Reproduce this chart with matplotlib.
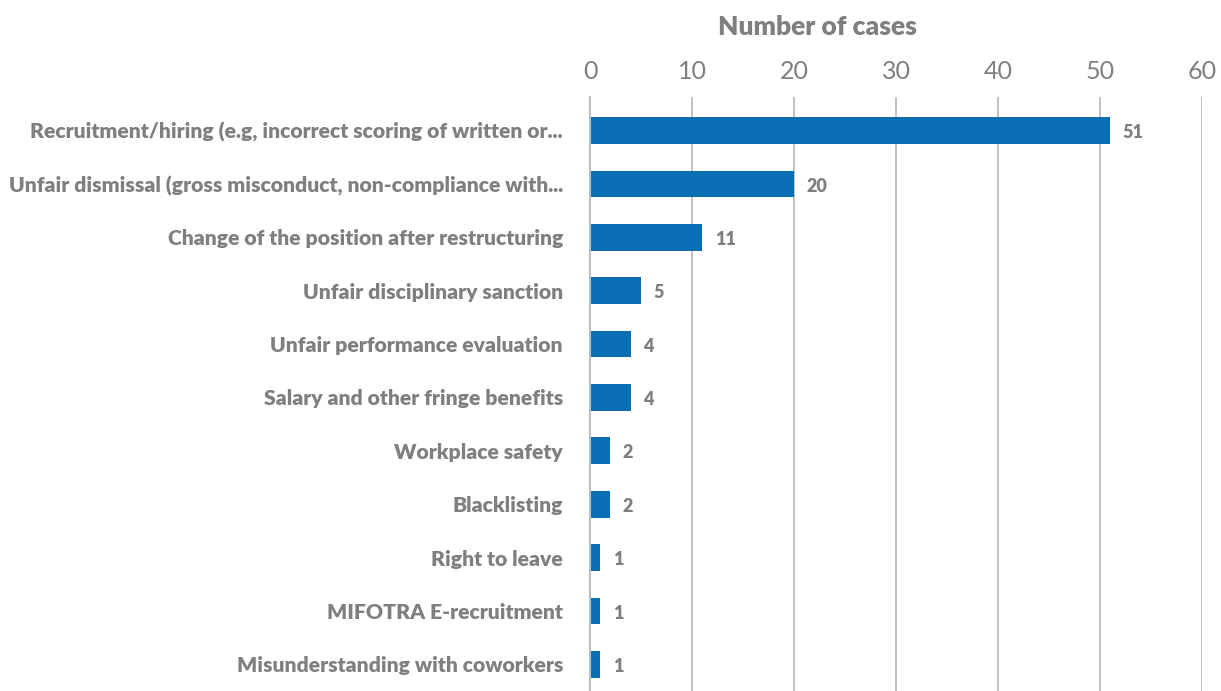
import matplotlib
matplotlib.use("Agg")
import matplotlib.pyplot as plt

categories = [
    "Recruitment/hiring (e.g, incorrect scoring of written or...",
    "Unfair dismissal (gross misconduct, non-compliance with...",
    "Change of the position after restructuring",
    "Unfair disciplinary sanction",
    "Unfair performance evaluation",
    "Salary and other fringe benefits",
    "Workplace safety",
    "Blacklisting",
    "Right to leave",
    "MIFOTRA E-recruitment",
    "Misunderstanding with coworkers",
]
values = [51, 20, 11, 5, 4, 4, 2, 2, 1, 1, 1]
xticks = [0, 10, 20, 30, 40, 50, 60]

GRAY = "#7f7f7f"
BLUE = "#0a6eb4"
FONT = ["Lato", "DejaVu Sans"]

fig = plt.figure(figsize=(12.21, 6.91), dpi=100)
ax = fig.add_axes([590 / 1221, 0.0, 612 / 1221, 1 - 97 / 691])

y = list(range(len(categories)))
ax.barh(y, values, height=0.5, color=BLUE, zorder=3)
ax.set_ylim(10.5, -0.63)
ax.set_xlim(0, 60)

ax.set_xticks(xticks)
ax.xaxis.tick_top()
ax.tick_params(axis="x", length=0, pad=10, labelsize=18, labelcolor=GRAY)
for lbl in ax.get_xticklabels():
    lbl.set_fontfamily(FONT)
    lbl.set_fontweight("normal")

ax.set_yticks(y)
ax.set_yticklabels(categories)
ax.tick_params(axis="y", length=0, pad=19.5, labelsize=15.2, labelcolor=GRAY)
for lbl in ax.get_yticklabels():
    lbl.set_fontfamily(FONT)
    lbl.set_fontweight("heavy")
    lbl.set_verticalalignment("center_baseline")

ax.grid(axis="x", color="#bdbdbd", linewidth=1.3, zorder=0)
for s in ["top", "right", "bottom"]:
    ax.spines[s].set_visible(False)
ax.spines["left"].set_color("#bdbdbd")
ax.spines["left"].set_linewidth(1.5)
ax.spines["left"].set_zorder(4)

for yi, v in zip(y, values):
    ax.annotate(str(v), (v, yi), xytext=(9, -1.5), textcoords="offset points",
                va="center", ha="left", fontsize=13, fontweight="heavy",
                color=GRAY, family=FONT)

fig.text(817 / 1221, 1 - 27 / 691, "Number of cases", ha="center", va="center",
         fontsize=19, fontweight="heavy", color=GRAY, family=FONT)

fig.savefig("out.png", dpi=100, facecolor="white")
